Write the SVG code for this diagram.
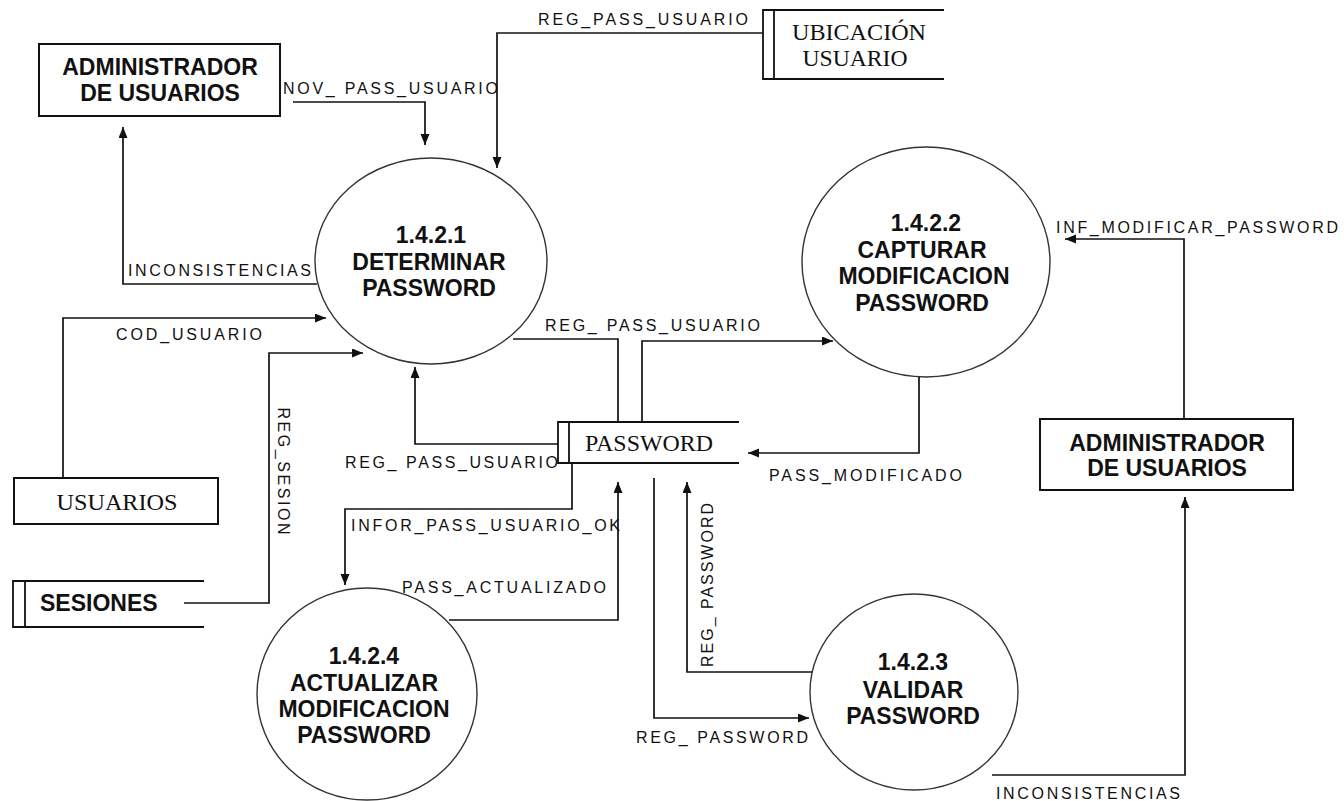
<svg xmlns="http://www.w3.org/2000/svg" width="1344" height="801" viewBox="0 0 1344 801">
  <style>
    .lbl { font-family: "Liberation Sans", Arial, sans-serif; font-size: 16px; fill: #111; }
    .proc { font-family: "Liberation Sans", Arial, sans-serif; font-size: 23px; font-weight: bold; fill: #111; text-anchor: middle; }
    .srf { font-family: "Liberation Serif", "Times New Roman", serif; font-size: 23px; fill: #111; text-anchor: middle; }
    .ell { fill: #fff; stroke: #333; stroke-width: 1.4; }
    .box { fill: #fff; stroke: #111; stroke-width: 2; }
    .st { fill: none; stroke: #111; stroke-width: 1.8; }
    .flow { fill: none; stroke: #111; stroke-width: 1.7; marker-end: url(#ah); }
    .flow-plain { fill: none; stroke: #111; stroke-width: 1.7; }
  </style>
  <defs>
    <marker id="ah" markerUnits="userSpaceOnUse" markerWidth="12" markerHeight="10" refX="11" refY="4.5" orient="auto">
      <path d="M0,0 L11,4.5 L0,9 z" fill="#111"/>
    </marker>
  </defs>
  <rect width="1344" height="801" fill="#fff"/>

  <!-- external entities -->
  <g id="admin-top">
    <rect class="box" x="39" y="44" width="241" height="72"/>
    <text class="proc" x="160" y="75">ADMINISTRADOR</text>
    <text class="proc" x="160" y="101">DE USUARIOS</text>
  </g>
  <g id="admin-right">
    <rect class="box" x="1040" y="419" width="253" height="71"/>
    <text class="proc" x="1167" y="451">ADMINISTRADOR</text>
    <text class="proc" x="1167" y="476">DE USUARIOS</text>
  </g>
  <g id="usuarios">
    <rect class="box" x="14" y="478" width="204" height="46"/>
    <text class="srf" x="117" y="510" textLength="121" lengthAdjust="spacingAndGlyphs">USUARIOS</text>
  </g>

  <!-- data stores -->
  <g id="store-ubicacion">
    <rect x="763" y="10" width="181" height="69" fill="#fff"/>
    <path class="st" d="M944,10 H763 V79 H944 M774,10 V79"/>
    <text class="srf" x="859" y="40" textLength="134" lengthAdjust="spacingAndGlyphs">UBICACIÓN</text>
    <text class="srf" x="855" y="66" textLength="105" lengthAdjust="spacingAndGlyphs">USUARIO</text>
  </g>
  <g id="store-password">
    <rect x="558" y="422" width="181" height="41" fill="#fff"/>
    <path class="st" d="M739,422 H558 V463 H739 M569,422 V463"/>
    <text class="srf" x="649" y="451" textLength="128" lengthAdjust="spacingAndGlyphs">PASSWORD</text>
  </g>
  <g id="store-sesiones">
    <rect x="13" y="581" width="191" height="46" fill="#fff"/>
    <path class="st" d="M204,581 H13 V627 H204 M25,581 V627"/>
    <text class="proc" x="40" y="611" style="text-anchor:start">SESIONES</text>
  </g>

  <!-- processes -->
  <g id="p1421">
    <ellipse class="ell" cx="431" cy="261" rx="116" ry="103"/>
    <text class="proc" x="431" y="243">1.4.2.1</text>
    <text class="proc" x="429" y="270">DETERMINAR</text>
    <text class="proc" x="429" y="296">PASSWORD</text>
  </g>
  <g id="p1422">
    <ellipse class="ell" cx="926" cy="262" rx="124" ry="115"/>
    <text class="proc" x="926" y="231">1.4.2.2</text>
    <text class="proc" x="922" y="258">CAPTURAR</text>
    <text class="proc" x="924" y="284">MODIFICACION</text>
    <text class="proc" x="922" y="311">PASSWORD</text>
  </g>
  <g id="p1423">
    <ellipse class="ell" cx="914" cy="692" rx="104" ry="98"/>
    <text class="proc" x="913" y="670">1.4.2.3</text>
    <text class="proc" x="913" y="698">VALIDAR</text>
    <text class="proc" x="913" y="724">PASSWORD</text>
  </g>
  <g id="p1424">
    <ellipse class="ell" cx="367" cy="694" rx="110" ry="106"/>
    <text class="proc" x="364" y="664">1.4.2.4</text>
    <text class="proc" x="364" y="691">ACTUALIZAR</text>
    <text class="proc" x="364" y="717">MODIFICACION</text>
    <text class="proc" x="364" y="743">PASSWORD</text>
  </g>

  <!-- data flows -->
  <g id="flows">
    <path class="flow" d="M293,102 H425 V145"/>
    <path class="flow" d="M763,33 H497 V168"/>
    <path class="flow" d="M317,284 H123 V127"/>
    <path class="flow" d="M63,478 V318 H326"/>
    <path class="flow" d="M184,603 H269 V353 H363"/>
    <path class="flow-plain" d="M513,339 H618 V422"/>
    <path class="flow" d="M642,422 V341 H833"/>
    <path class="flow" d="M1184,419 V239 H1065"/>
    <path class="flow" d="M919,377 V453 H748"/>
    <path class="flow" d="M558,444 H415 V367"/>
    <path class="flow" d="M572,463 V509 H345 V585"/>
    <path class="flow" d="M449,620 H618 V482"/>
    <path class="flow" d="M654,478 V718 H809"/>
    <path class="flow" d="M812,672 H687 V482"/>
    <path class="flow" d="M992,775 H1185 V497"/>
  </g>

  <!-- flow labels -->
  <g id="labels">
    <text class="lbl" x="283" y="94" textLength="215" lengthAdjust="spacing">NOV_ PASS_USUARIO</text>
    <text class="lbl" x="538" y="25" textLength="210" lengthAdjust="spacing">REG_PASS_USUARIO</text>
    <text class="lbl" x="128" y="276" textLength="183" lengthAdjust="spacing">INCONSISTENCIAS</text>
    <text class="lbl" x="116" y="340" textLength="146" lengthAdjust="spacing">COD_USUARIO</text>
    <text class="lbl" x="545" y="331" textLength="215" lengthAdjust="spacing">REG_ PASS_USUARIO</text>
    <text class="lbl" x="1056" y="233" textLength="282" lengthAdjust="spacing">INF_MODIFICAR_PASSWORD</text>
    <text class="lbl" x="345" y="468" textLength="213" lengthAdjust="spacing">REG_ PASS_USUARIO</text>
    <text class="lbl" x="769" y="481" textLength="193" lengthAdjust="spacing">PASS_MODIFICADO</text>
    <text class="lbl" x="351" y="531" textLength="269" lengthAdjust="spacing">INFOR_PASS_USUARIO_OK</text>
    <text class="lbl" x="402" y="593" textLength="204" lengthAdjust="spacing">PASS_ACTUALIZADO</text>
    <text class="lbl" x="636" y="743" textLength="172" lengthAdjust="spacing">REG_ PASSWORD</text>
    <text class="lbl" x="996" y="799" textLength="184" lengthAdjust="spacing">INCONSISTENCIAS</text>
    <text class="lbl" transform="translate(284,471) rotate(90)" x="0" y="6" text-anchor="middle" textLength="127" lengthAdjust="spacing">REG_SESION</text>
    <text class="lbl" transform="translate(707,585) rotate(-90)" x="0" y="6" text-anchor="middle" textLength="164" lengthAdjust="spacing">REG_ PASSWORD</text>
  </g>
</svg>
